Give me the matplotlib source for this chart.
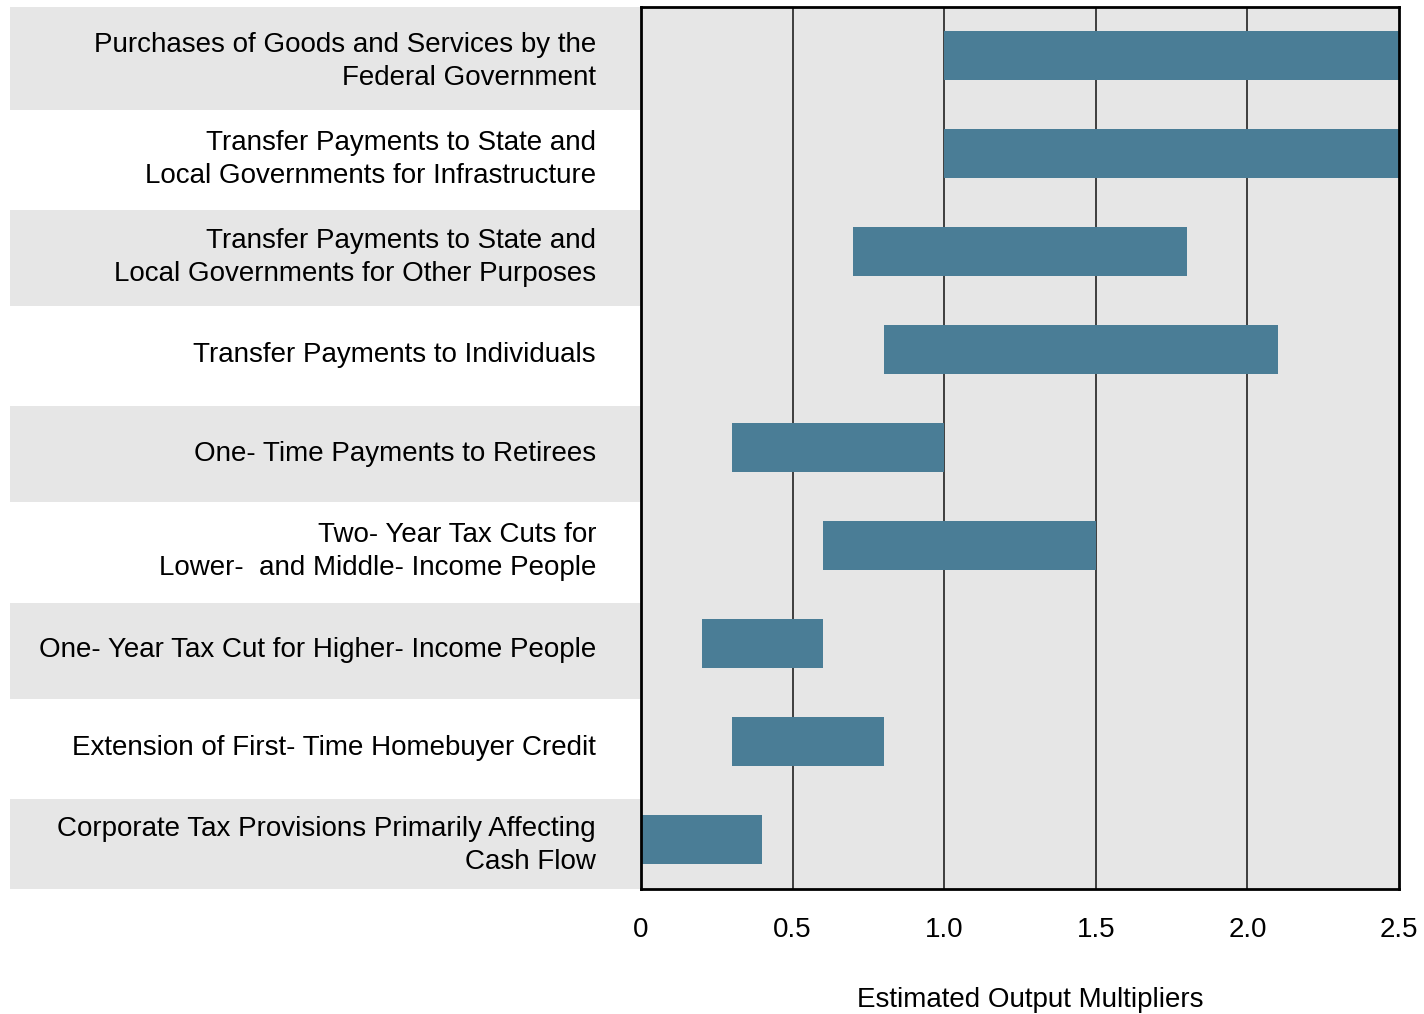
import matplotlib.pyplot as plt
import matplotlib.transforms as mtransforms
from matplotlib.patches import Rectangle

plt.rcParams['font.family'] = ['Liberation Sans', 'DejaVu Sans']

policies = [
    'Purchases of Goods and Services by the\nFederal Government',
    'Transfer Payments to State and\nLocal Governments for Infrastructure',
    'Transfer Payments to State and\nLocal Governments for Other Purposes',
    'Transfer Payments to Individuals',
    'One- Time Payments to Retirees',
    'Two- Year Tax Cuts for\nLower-  and Middle- Income People',
    'One- Year Tax Cut for Higher- Income People',
    'Extension of First- Time Homebuyer Credit',
    'Corporate Tax Provisions Primarily Affecting\nCash Flow',
]
low = [1.0, 1.0, 0.7, 0.8, 0.3, 0.6, 0.2, 0.3, 0.0]
high = [2.5, 2.5, 1.8, 2.1, 1.0, 1.5, 0.6, 0.8, 0.4]
xticks = [0, 0.5, 1.0, 1.5, 2.0, 2.5]
xticklabels = ['0', '0.5', '1.0', '1.5', '2.0', '2.5']

bar_color = '#4a7d96'
shade = '#e6e6e6'

fig = plt.figure(figsize=(14.24, 10.14), dpi=100)
ax = fig.add_axes([641 / 1424, 1 - 889 / 1014, 758 / 1424, 882 / 1014])
ax.set_facecolor(shade)

n = len(policies)
ypos = list(range(n))
widths = [h - l for l, h in zip(low, high)]
ax.barh(ypos, widths, left=low, height=0.5, color=bar_color, zorder=3)

ax.set_xlim(0, 2.5)
ax.set_ylim(n - 0.5, -0.49)

# vertical grid
for x in xticks[1:-1]:
    ax.axvline(x, color='#222222', lw=1.2, zorder=2)

ax.set_xticks(xticks)
ax.set_xticklabels(xticklabels, fontsize=20)
ax.tick_params(axis='x', length=0, pad=20)
ax.set_yticks([])
for sp in ax.spines.values():
    sp.set_linewidth(2)
    sp.set_color('black')
    sp.set_zorder(5)

# alternating shaded bands behind the category labels
band_tr = mtransforms.blended_transform_factory(ax.transAxes, ax.transData)
for i in range(0, n, 2):
    top = max(i - 0.42, -0.49)
    bot = min(i + 0.56, n - 0.5)
    if i == 0:
        top = -0.49
    ax.add_patch(Rectangle((-631 / 758, top), 631 / 758, bot - top,
                           transform=band_tr, facecolor=shade,
                           edgecolor='none', clip_on=False, zorder=0))

label_tr = band_tr + mtransforms.ScaledTranslation(-45 / 100, -6 / 100,
                                                   fig.dpi_scale_trans)
for y, name in zip(ypos, policies):
    ax.text(0, y, name, transform=label_tr, ha='right', va='center',
            fontsize=20, linespacing=1.35)

fig.text(1030 / 1424, 1 - 1000 / 1014, 'Estimated Output Multipliers',
         ha='center', va='center', fontsize=20)

fig.savefig('out.png', dpi=100, facecolor='white')
